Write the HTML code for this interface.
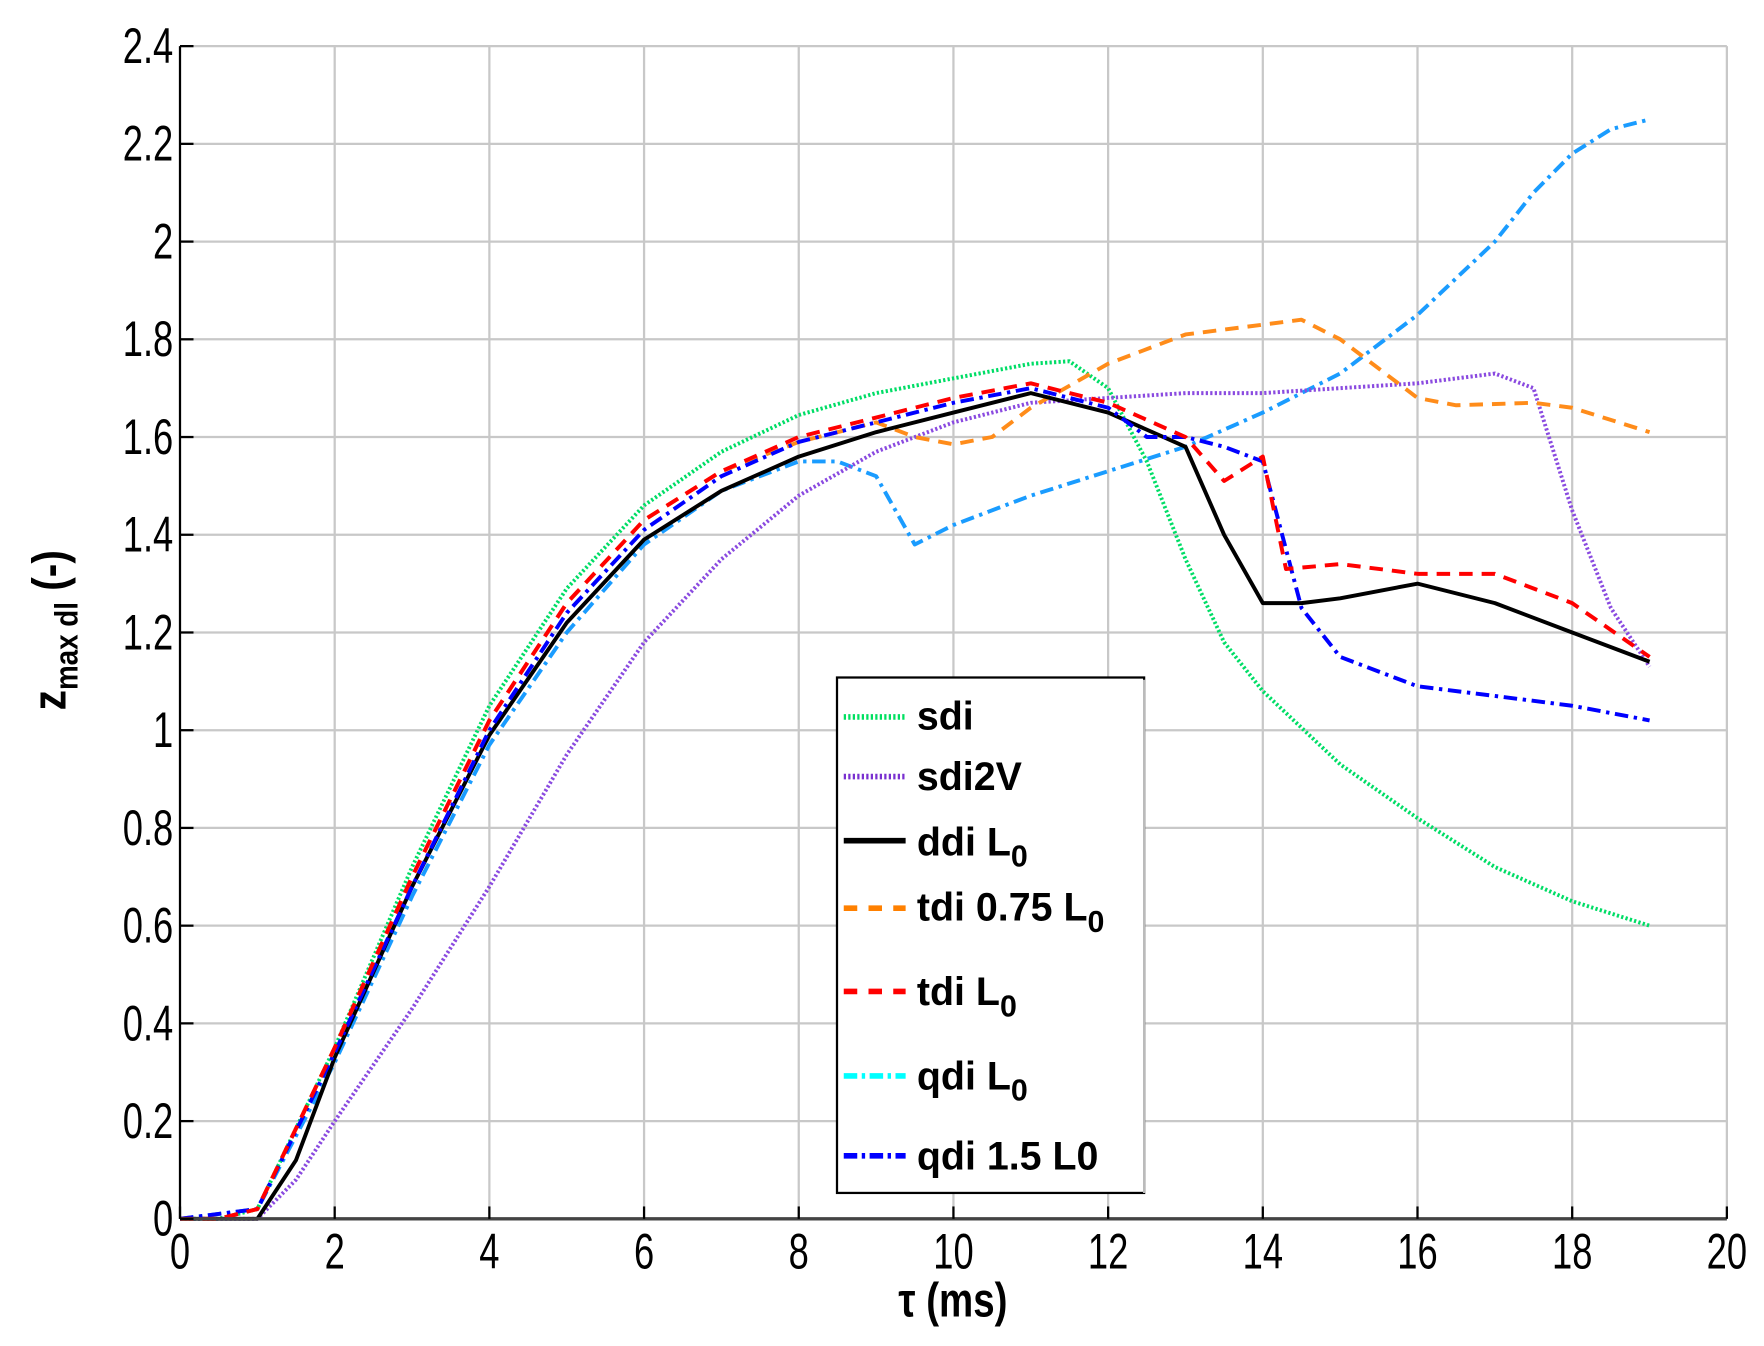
<!DOCTYPE html>
<html><head><meta charset="utf-8"><style>
html,body{margin:0;padding:0;background:#fff;}
svg{display:block;}
text{font-family:"Liberation Sans",sans-serif;}
.lg{font-family:"Liberation Sans",sans-serif;font-weight:bold;font-size:35px;}
</style></head><body>
<svg id="s" width="1764" height="1346" viewBox="0 0 1568 1196" preserveAspectRatio="none" xmlns="http://www.w3.org/2000/svg">
<rect width="1568" height="1196" fill="#fff"/>
<g id="grid"></g>
<g id="series"></g>
<g id="ax"></g>
<g transform="translate(847,1170) scale(0.9,1.12)"><text x="0" y="0" font-size="38" text-anchor="middle" font-weight="bold">τ (ms)</text></g>
<g transform="translate(58,560) rotate(-90) scale(0.95,1.1)"><text x="0" y="0" font-size="38" text-anchor="middle" font-weight="bold">z<tspan font-size="26" dy="10">max dl</tspan><tspan dy="-10"> (-)</tspan></text></g>
<g id="leg">
<rect x="744" y="602" width="273" height="458" fill="#fff" stroke="#000" stroke-width="2"/>
<line x1="1017" y1="604" x2="1017" y2="1060" stroke="#bbb" stroke-width="2"/>
<line x1="750" y1="637" x2="805" y2="637" stroke="#00e060" stroke-width="5" stroke-dasharray="2,2"/>
<text class="lg" x="815" y="648">sdi</text>
<line x1="750" y1="690" x2="805" y2="690" stroke="#7a30d0" stroke-width="5" stroke-dasharray="2,2"/>
<text class="lg" x="815" y="702">sdi2V</text>
<line x1="750" y1="747" x2="805" y2="747" stroke="#000" stroke-width="5"/>
<text class="lg" x="815" y="760">ddi L<tspan font-size="27" dy="10">0</tspan></text>
<line x1="750" y1="807" x2="805" y2="807" stroke="#ff8000" stroke-width="5" stroke-dasharray="12,10"/>
<text class="lg" x="815" y="818">tdi 0.75 L<tspan font-size="27" dy="10">0</tspan></text>
<line x1="750" y1="881" x2="805" y2="881" stroke="#ff0000" stroke-width="5" stroke-dasharray="12,10"/>
<text class="lg" x="815" y="893">tdi L<tspan font-size="27" dy="10">0</tspan></text>
<line x1="750" y1="956" x2="805" y2="956" stroke="#00ffff" stroke-width="5" stroke-dasharray="12,4,3,4"/>
<text class="lg" x="815" y="968">qdi L<tspan font-size="27" dy="10">0</tspan></text>
<line x1="750" y1="1027" x2="805" y2="1027" stroke="#0000ff" stroke-width="5" stroke-dasharray="12,4,3,4"/>
<text class="lg" x="815" y="1039">qdi 1.5 L0</text>
</g>
</svg>
<script>
const NS="http://www.w3.org/2000/svg";
const X=t=>160+68.75*t, Y=v=>1083-434.17*v;
function el(p,tag,a,txt){const e=document.createElementNS(NS,tag);for(const k in a)e.setAttribute(k,a[k]);if(txt!=null)e.textContent=txt;document.getElementById(p).appendChild(e);return e;}
for(let i=1;i<=10;i++){el("grid","line",{x1:X(2*i),x2:X(2*i),y1:41,y2:1083,stroke:"#c8c8c8","stroke-width":2});}
for(let j=1;j<=12;j++){el("grid","line",{x1:160,x2:1535,y1:Y(0.2*j),y2:Y(0.2*j),stroke:"#c8c8c8","stroke-width":2});}
el("ax","line",{x1:160,x2:160,y1:41,y2:1083,stroke:"#000","stroke-width":2});
el("ax","line",{x1:160,x2:1535,y1:1083,y2:1083,stroke:"#444","stroke-width":3});
for(let i=0;i<=10;i++){el("ax","line",{x1:X(2*i),x2:X(2*i),y1:1083,y2:1072,stroke:"#000","stroke-width":2});
 el("ax","text",{x:0,y:0,"font-size":38,"text-anchor":"middle",transform:`translate(${X(2*i)},1127) scale(0.85,1.18)`},String(2*i));}
for(let j=0;j<=12;j++){el("ax","line",{x1:160,x2:172,y1:Y(0.2*j),y2:Y(0.2*j),stroke:"#000","stroke-width":2});
 let v=(0.2*j).toFixed(1).replace(/\.0$/,"");
 el("ax","text",{x:0,y:0,"font-size":38,"text-anchor":"end",transform:`translate(154,${Y(0.2*j)+15}) scale(0.85,1.18)`},v);}
const S=[
["#1a9cff","12,5,3,5",[[0,0],[1,0.02],[2,0.32],[3,0.66],[4,0.97],[5,1.2],[6,1.38],[7,1.49],[8,1.55],[8.5,1.55],[9,1.52],[9.5,1.38],[10,1.42],[11,1.48],[12,1.53],[13,1.58],[14,1.65],[15,1.73],[16,1.85],[17,2.0],[17.5,2.1],[18,2.18],[18.5,2.23],[19,2.25]]],
["#00dd66","2,2",[[0,0],[0.5,0],[1,0.02],[2,0.35],[3,0.72],[4,1.05],[5,1.29],[6,1.46],[7,1.57],[8,1.645],[9,1.69],[10,1.72],[11,1.75],[11.5,1.755],[12,1.7],[12.5,1.55],[13,1.35],[13.5,1.18],[14,1.08],[15,0.93],[16,0.82],[17,0.72],[18,0.65],[19,0.6]]],
["#8a4ae0","2,2",[[0,0],[1,0],[1.5,0.08],[2,0.2],[3,0.43],[4,0.68],[5,0.95],[6,1.18],[7,1.35],[8,1.48],[9,1.57],[10,1.63],[11,1.67],[12,1.68],[13,1.69],[14,1.69],[15,1.7],[16,1.71],[17,1.73],[17.5,1.7],[18,1.45],[18.5,1.25],[19,1.13]]],
["#ff8c1a","12,8",[[0,0],[0.5,0],[1,0.02],[2,0.35],[3,0.7],[4,1.02],[5,1.26],[6,1.43],[7,1.53],[8,1.59],[9,1.63],[9.5,1.6],[10,1.585],[10.5,1.6],[11,1.66],[12,1.75],[13,1.81],[14,1.83],[14.5,1.84],[15,1.8],[16,1.68],[16.5,1.665],[17.5,1.67],[18,1.66],[19,1.61]]],
["#000","",[[0,0],[1,0],[1.5,0.12],[2,0.33],[3,0.68],[4,0.99],[5,1.22],[6,1.39],[7,1.49],[8,1.56],[9,1.61],[10,1.65],[11,1.69],[12,1.65],[13,1.58],[13.5,1.4],[14,1.26],[14.5,1.26],[15,1.27],[16,1.3],[17,1.26],[18,1.2],[19,1.14]]],
["#0000ff","12,5,3,5",[[0,0],[1,0.02],[2,0.34],[3,0.68],[4,1.0],[5,1.24],[6,1.41],[7,1.52],[8,1.59],[9,1.63],[10,1.67],[11,1.7],[12,1.66],[12.5,1.6],[13,1.6],[13.5,1.58],[14,1.55],[14.5,1.25],[15,1.15],[16,1.09],[17,1.07],[18,1.05],[19,1.02]]],
["#ff0000","12,8",[[0,0],[0.5,0],[1,0.02],[2,0.35],[3,0.7],[4,1.02],[5,1.26],[6,1.43],[7,1.53],[8,1.6],[9,1.64],[10,1.68],[11,1.71],[12,1.67],[13,1.6],[13.5,1.51],[14,1.56],[14.3,1.33],[15,1.34],[16,1.32],[17,1.32],[18,1.26],[19,1.15]]]
];
for(const [c,d,p] of S){const a={points:p.map(q=>X(q[0]).toFixed(1)+","+Y(q[1]).toFixed(1)).join(" "),fill:"none",stroke:c,"stroke-width":3.5,"stroke-linejoin":"round"};if(d)a["stroke-dasharray"]=d;el("series","polyline",a);}
</script>
</body></html>
